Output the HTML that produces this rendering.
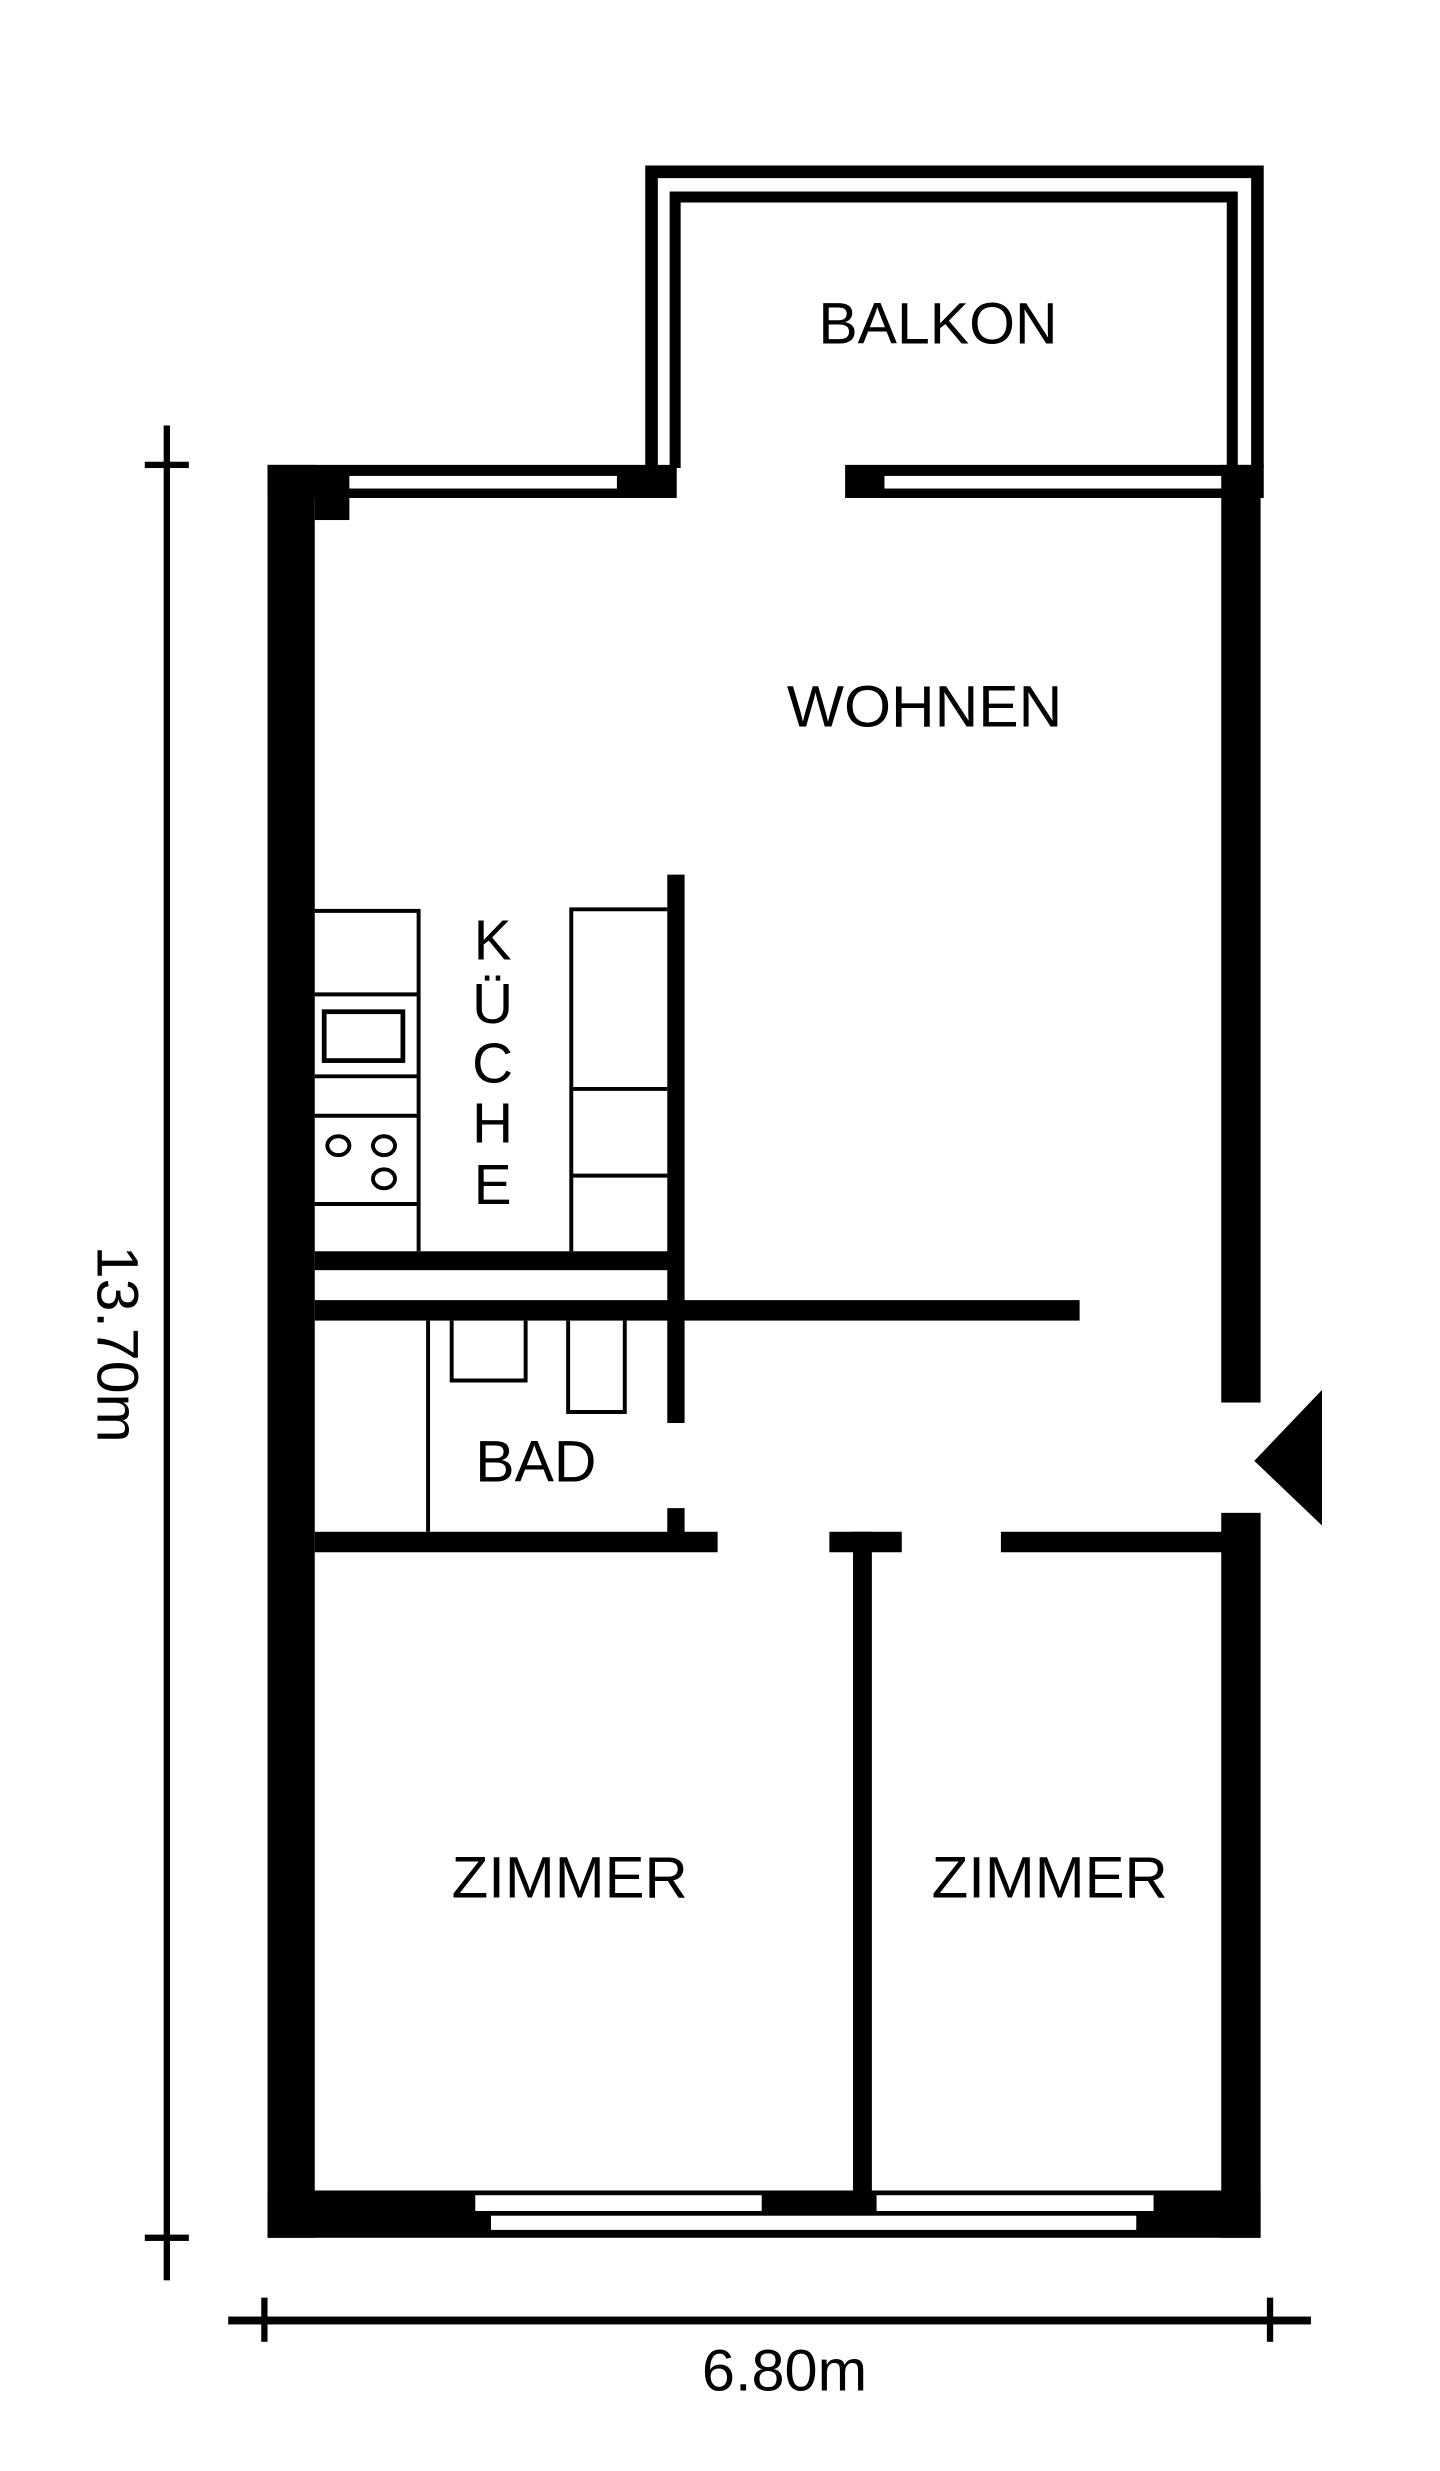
<!DOCTYPE html>
<html><head><meta charset="utf-8"><style>
html,body{margin:0;padding:0;background:#fff;}
svg{display:block}
text{font-family:"Liberation Sans",Arial,sans-serif;fill:#000}
</style></head><body>
<svg width="1440" height="2471" viewBox="0 0 915 1568" preserveAspectRatio="none" xmlns="http://www.w3.org/2000/svg">
<rect x="0" y="0" width="915" height="1568" fill="#fff"/>
<!-- Balcony -->
<path d="M414 297 V109 H799 V297" fill="none" stroke="#000" stroke-width="8"/>
<path d="M429 297 V125 H783 V297" fill="none" stroke="#000" stroke-width="7"/>
<!-- top wall left -->
<rect x="170" y="295" width="260" height="21" fill="#000"/>
<rect x="222" y="302" width="170" height="8" fill="#fff"/>
<rect x="200" y="316" width="22" height="14" fill="#000"/>
<!-- top wall right -->
<rect x="537" y="295" width="266" height="21" fill="#000"/>
<rect x="562" y="302" width="216" height="8" fill="#fff"/>
<!-- left wall -->
<rect x="170" y="295" width="30" height="1125" fill="#000"/>
<!-- right wall -->
<rect x="776" y="295" width="25" height="595" fill="#000"/>
<rect x="776" y="960" width="25" height="460" fill="#000"/>
<!-- bottom wall -->
<rect x="170" y="1390" width="631" height="30" fill="#000"/>
<rect x="302" y="1393" width="182" height="10" fill="#fff"/>
<rect x="557" y="1393" width="176" height="10" fill="#fff"/>
<rect x="312" y="1406" width="410" height="9" fill="#fff"/>
<!-- entry arrow -->
<polygon points="797,927 840,882 840,968" fill="#000"/>
<!-- kitchen vertical wall -->
<rect x="424" y="555" width="11" height="348" fill="#000"/>
<rect x="424" y="957" width="11" height="16" fill="#000"/>
<!-- horizontal walls -->
<rect x="200" y="794" width="230" height="12" fill="#000"/>
<rect x="200" y="825" width="486" height="13" fill="#000"/>
<rect x="200" y="972" width="256" height="13" fill="#000"/>
<rect x="527" y="972" width="46" height="13" fill="#000"/>
<rect x="636" y="972" width="142" height="13" fill="#000"/>
<rect x="542" y="972" width="12" height="420" fill="#000"/>
<!-- kitchen cabinets left -->
<g fill="none" stroke="#000" stroke-width="2.5">
<path d="M200 578 H266 V794"/>
<path d="M200 631 H266"/>
<path d="M200 683 H266"/>
<path d="M200 708 H266"/>
<path d="M200 764 H266"/>
<rect x="206" y="642" width="50" height="31" stroke-width="3"/>
<ellipse cx="215" cy="727" rx="7" ry="6"/>
<ellipse cx="244" cy="727" rx="7" ry="6"/>
<ellipse cx="244" cy="748" rx="7" ry="6"/>
<path d="M363 794 V577 H424"/>
<path d="M363 691 H424"/>
<path d="M363 746 H424"/>
<path d="M272 838 V972"/>
<path d="M287 838 V876 H334 V838"/>
<path d="M361 838 V896 H397 V838"/>
</g>
<!-- dimension lines -->
<rect x="104" y="270" width="4" height="1177" fill="#000"/>
<rect x="92" y="293" width="28" height="4" fill="#000"/>
<rect x="92" y="1418" width="28" height="4" fill="#000"/>
<rect x="145" y="1470" width="688" height="5" fill="#000"/>
<rect x="166" y="1458" width="4" height="28" fill="#000"/>
<rect x="805" y="1458" width="4" height="28" fill="#000"/>
<!-- labels -->
<g font-size="37">
<text x="520" y="218" textLength="152" lengthAdjust="spacingAndGlyphs">BALKON</text>
<text x="500" y="461" textLength="175" lengthAdjust="spacingAndGlyphs">WOHNEN</text>
<text x="302" y="940" textLength="77" lengthAdjust="spacingAndGlyphs">BAD</text>
<text x="287" y="1204" textLength="150" lengthAdjust="spacingAndGlyphs">ZIMMER</text>
<text x="592" y="1204" textLength="150" lengthAdjust="spacingAndGlyphs">ZIMMER</text>
<text x="446" y="1517" textLength="105" lengthAdjust="spacingAndGlyphs">6.80m</text>
</g>
<g font-size="36" text-anchor="middle">
<text x="313" y="609">K</text>
<text x="313" y="649">Ü</text>
<text x="313" y="687">C</text>
<text x="313" y="725">H</text>
<text x="313" y="764">E</text>
</g>
<text x="0" y="0" font-size="37" text-anchor="middle" textLength="125" lengthAdjust="spacingAndGlyphs" transform="translate(62,853) rotate(90)">13.70m</text>
</svg>
</body></html>
